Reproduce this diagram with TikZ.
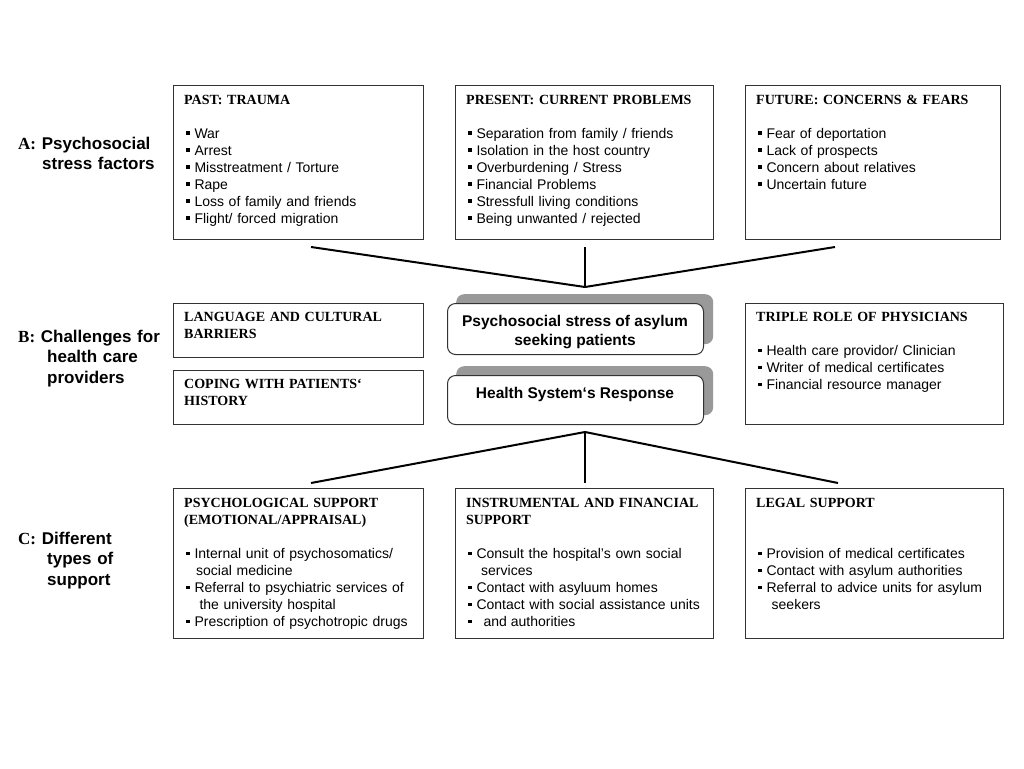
\documentclass[tikz,border=0pt]{standalone}
\usepackage{fontspec}
\setmainfont{Liberation Sans}
\newfontfamily\tms{Liberation Serif}
\newcommand\bu{\hspace*{2pt}\rule[4pt]{3.3pt}{3.3pt}\hspace{5pt}}
\newcommand\ttl[1]{{\tms\bfseries #1}}
\begin{document}
\begin{tikzpicture}[x=1pt,y=-1pt,
  box/.style={draw=black!80, line width=1pt, anchor=north west, inner sep=0pt, outer sep=0pt},
  txt/.style={anchor=north west, inner sep=0pt, text width=245pt, align=left, font=\fontsize{14pt}{17pt}\selectfont},
  lbl/.style={anchor=north west, inner sep=0pt, text width=170pt, align=left, font=\fontsize{17pt}{20.5pt}\selectfont\bfseries},
  core/.style={draw=black!80, line width=1pt, fill=white, rounded corners=8pt, anchor=north west, inner sep=0pt, minimum width=256pt},
  shade/.style={fill=black!40, rounded corners=8pt, anchor=north west, inner sep=0pt, minimum width=257pt},
  coretxt/.style={inner sep=0pt, align=center, font=\fontsize{15.5pt}{19pt}\selectfont\bfseries},
  link/.style={line width=2pt, black}]
\useasboundingbox (0,0) rectangle (1024,768);

% ---- Row labels
\node[lbl] (labA) at (18,134.6) {\strut{\tms A:} Psychosocial\\\hspace*{24pt}stress factors};
\node[lbl] (labB) at (18,327.6) {\strut{\tms B:} Challenges for\\\hspace*{29pt}health care\\\hspace*{29pt}providers};
\node[lbl] (labC) at (18,529.6) {\strut{\tms C:} Different\\\hspace*{29pt}types of\\\hspace*{29pt}support};

% ---- Row A boxes
\node[box, minimum width=250pt, minimum height=154pt] (past) at (173,85) {};
\node[box, minimum width=258pt, minimum height=154pt] (present) at (455,85) {};
\node[box, minimum width=255pt, minimum height=154pt] (future) at (745,85) {};

\node[txt] (pastT) at (184,92.6) {\strut\ttl{PAST: TRAUMA}\\[17pt]
\bu War\\
\bu Arrest\\
\bu Misstreatment / Torture\\
\bu Rape\\
\bu Loss of family and friends\\
\bu Flight/ forced migration};

\node[txt] (presentT) at (466,92.6) {\strut\ttl{PRESENT: CURRENT PROBLEMS}\\[17pt]
\bu Separation from family / friends\\
\bu Isolation in the host country\\
\bu Overburdening / Stress\\
\bu Financial Problems\\
\bu Stressfull living conditions\\
\bu Being unwanted / rejected};

\node[txt] (futureT) at (756,92.6) {\strut\ttl{FUTURE: CONCERNS \& FEARS}\\[17pt]
\bu Fear of deportation\\
\bu Lack of prospects\\
\bu Concern about relatives\\
\bu Uncertain future};

% ---- Row B boxes
\node[box, minimum width=250pt, minimum height=54pt] (lang) at (173,303) {};
\node[box, minimum width=250pt, minimum height=54pt] (coping) at (173,370) {};
\node[box, minimum width=258pt, minimum height=121pt] (triple) at (745,303) {};

\node[txt] (langT) at (184,309.7) {\strut\ttl{LANGUAGE AND CULTURAL}\\\ttl{BARRIERS}};
\node[txt] (copingT) at (184,376.7) {\strut\ttl{COPING WITH PATIENTS‘}\\\ttl{HISTORY}};
\node[txt] (tripleT) at (756,309.7) {\strut\ttl{TRIPLE ROLE OF PHYSICIANS}\\[17pt]
\bu Health care providor/ Clinician\\
\bu Writer of medical certificates\\
\bu Financial resource manager};

% ---- Central boxes
\node[shade, minimum height=50pt] (stressSh) at (456,294) {};
\node[core, minimum height=51pt] (stress) at (447,303) {};
\node[coretxt, anchor=north] (stressT) at (575,313.2) {\strut Psychosocial stress of asylum\\seeking patients};

\node[shade, minimum height=49pt] (respSh) at (456,366) {};
\node[core, minimum height=49pt] (resp) at (447,375) {};
\node[coretxt, anchor=base] (respT) at (575,398.6) {Health System‘s Response};

% ---- Row C boxes
\node[box, minimum width=250pt, minimum height=150pt] (psych) at (173,488) {};
\node[box, minimum width=258pt, minimum height=150pt] (instr) at (455,488) {};
\node[box, minimum width=258pt, minimum height=150pt] (legal) at (745,488) {};

\node[txt] (psychT) at (184,495.7) {\strut\ttl{PSYCHOLOGICAL SUPPORT}\\\ttl{(EMOTIONAL/APPRAISAL)}\\[17pt]
\bu Internal unit of psychosomatics/\\
\hspace*{12pt}social medicine\\
\bu Referral to psychiatric services of\\
\hspace*{15.3pt}the university hospital\\
\bu Prescription of psychotropic drugs};

\node[txt] (instrT) at (466,495.7) {\strut\ttl{INSTRUMENTAL AND FINANCIAL}\\\ttl{SUPPORT}\\[17pt]
\bu Consult the hospital's own social\\
\hspace*{15pt}services\\
\bu Contact with asyluum homes\\
\bu Contact with social assistance units\\
\bu\hspace{7pt}and\hspace{4pt}authorities};

\node[txt] (legalT) at (756,495.7) {\strut\ttl{LEGAL SUPPORT}\\[34pt]
\bu Provision of medical certificates\\
\bu Contact with asylum authorities\\
\bu Referral to advice units for asylum\\
\hspace*{15.5pt}seekers};

% ---- Connectors
\coordinate (joinTop) at (585,287);
\coordinate (endPast) at (311,247);
\coordinate (endPresent) at (585,247);
\coordinate (endFuture) at (835,247);
\draw[link] (endPast) -- (joinTop) -- (endFuture);
\draw[link] (endPresent) -- (joinTop);

\coordinate (joinBot) at (585,432);
\coordinate (endPsych) at (311,483);
\coordinate (endInstr) at (585,483);
\coordinate (endLegal) at (838,483);
\draw[link] (endPsych) -- (joinBot) -- (endLegal);
\draw[link] (joinBot) -- (endInstr);
\end{tikzpicture}
\end{document}
